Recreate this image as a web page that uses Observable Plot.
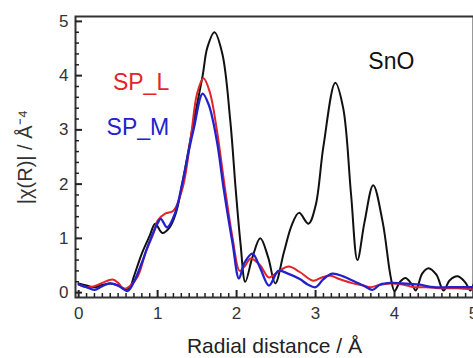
<!DOCTYPE html>
<html><head><meta charset="utf-8">
<script src="https://cdn.jsdelivr.net/npm/d3@7"></script>
<script src="https://cdn.jsdelivr.net/npm/@observablehq/plot@0.6"></script>
<style>
body{margin:0;background:#fff}
svg{font-family:"Liberation Sans",Arial,sans-serif}
</style>
</head><body><div id="chart"></div>
<script>
// SnO reference
const rSnO = [0,0.1,0.2,0.3,0.4,0.5,0.6,0.65,0.7,0.8,0.9,0.97,1.06,1.15,1.23,1.32,1.45,1.57,1.63,1.72,1.82,1.92,1.99,2.05,2.11,2.2,2.3,2.4,2.49,2.6,2.7,2.79,2.91,3.0,3.1,3.25,3.35,3.45,3.53,3.62,3.73,3.85,3.95,4.0,4.07,4.14,4.22,4.27,4.35,4.43,4.53,4.62,4.7,4.8,4.9,4.96,5.0];
const vSnO = [0.17,0.13,0.1,0.14,0.17,0.13,0.06,0.1,0.3,0.72,1.05,1.27,1.1,1.2,1.46,2.07,3.1,4.0,4.52,4.8,4.4,3.17,1.88,0.9,0.2,0.65,1.0,0.65,0.17,0.75,1.25,1.47,1.27,1.6,2.7,3.87,3.4,1.8,0.6,1.3,1.98,1.3,0.3,0.03,0.2,0.27,0.15,0.04,0.35,0.45,0.33,0.04,0.23,0.3,0.18,0.04,0.15];
// SP_L
const rSPL = [0,0.1,0.2,0.3,0.43,0.5,0.57,0.65,0.75,0.85,0.95,1.0,1.1,1.2,1.32,1.42,1.5,1.58,1.66,1.75,1.85,1.95,2.04,2.1,2.18,2.3,2.41,2.52,2.66,2.8,2.97,3.08,3.19,3.3,3.45,3.6,3.7,3.8,3.95,4.1,4.25,4.4,4.6,4.8,5.0];
const vSPL = [0.15,0.1,0.12,0.18,0.24,0.18,0.07,0.12,0.3,0.75,1.1,1.33,1.46,1.51,1.95,2.86,3.67,3.95,3.7,3.0,1.95,1.0,0.4,0.48,0.63,0.5,0.28,0.38,0.48,0.38,0.22,0.28,0.31,0.25,0.18,0.13,0.1,0.14,0.17,0.15,0.1,0.1,0.08,0.08,0.06];
// SP_M
const rSPM = [0,0.1,0.2,0.3,0.4,0.5,0.62,0.7,0.8,0.9,1.0,1.04,1.12,1.22,1.31,1.4,1.46,1.57,1.65,1.75,1.84,1.95,2.03,2.1,2.2,2.3,2.41,2.53,2.65,2.8,2.9,3.0,3.1,3.21,3.35,3.5,3.62,3.72,3.82,3.95,4.1,4.3,4.5,4.7,5.0];
const vSPM = [0.15,0.1,0.05,0.12,0.17,0.13,0.03,0.2,0.55,0.95,1.28,1.36,1.2,1.46,2.0,2.65,3.04,3.67,3.45,2.8,1.88,0.9,0.26,0.55,0.72,0.45,0.13,0.4,0.35,0.25,0.15,0.1,0.25,0.35,0.3,0.2,0.12,0.05,0.15,0.18,0.17,0.15,0.1,0.1,0.1];

const xTicks = [0,1,2,3,4,5];
const yTicks = [0,1,2,3,4,5];
const xMinor = d3.range(0, 50).map(i => i/10).filter(v => !xTicks.includes(v));
const yMinor = d3.range(0, 26).map(i => i/5).filter(v => !yTicks.includes(v));

const seriesNames = ["SnO","SP_L","SP_M"];
const seriesColors = ["#111111","#e3242b","#2222cc"];
const toRows = (rs, vs, name) => rs.map((r, i) => ({r, v: vs[i], name}));
const rows = [toRows(rSnO, vSnO, "SnO"), toRows(rSPL, vSPL, "SP_L"), toRows(rSPM, vSPM, "SP_M")];

const legend = [
  {name: "SP_L", r: 0.79, v: 3.88},
  {name: "SP_M", r: 0.75, v: 3.05},
  {name: "SnO", r: 3.96, v: 4.26}
];

const plotH = 358 - 16 - 61;
const plotW = 473 - 75 - 0;

const chart = Plot.plot({
  width: 473,
  height: 358,
  marginLeft: 75,
  marginRight: 0,
  marginTop: 16,
  marginBottom: 61,
  style: {fontFamily: '"Liberation Sans", Arial, sans-serif', background: "#fff", color: "#222"},
  x: {domain: [-0.04, 5.0]},
  y: {domain: [-0.09, 5.09]},
  color: {domain: seriesNames, range: seriesColors},
  marks: [
    Plot.frame({stroke: "#333", strokeWidth: 2}),
    Plot.ruleX(xTicks, {x: d => d, stroke: "#222", strokeWidth: 2, insetTop: plotH - 7}),
    Plot.ruleX(xMinor, {x: d => d, stroke: "#222", strokeWidth: 1.5, insetTop: plotH - 4}),
    Plot.ruleY(yTicks, {y: d => d, stroke: "#222", strokeWidth: 2, insetRight: plotW - 7}),
    Plot.ruleY(yMinor, {y: d => d, stroke: "#222", strokeWidth: 1.5, insetRight: plotW - 4}),
    Plot.axisX({ticks: xTicks, tickSize: 0, tickPadding: 9, fontSize: 17, tickFormat: "d", label: null, fill: "#333"}),
    Plot.axisY({ticks: yTicks, tickSize: 0, tickPadding: 7, fontSize: 17, tickFormat: "d", label: null, fill: "#333"}),
    Plot.text(["Radial distance / Å"], {frameAnchor: "bottom", textAnchor: "middle", dy: 55, fontSize: 21, fill: "#222"}),
    Plot.text(["|χ(R)| / Å⁻⁴"], {frameAnchor: "left", textAnchor: "middle", dx: -50, rotate: -90, fontSize: 20, fill: "#333"}),
    Plot.line(rows[0], {x: "r", y: "v", stroke: "name", strokeWidth: 2, curve: "catmull-rom"}),
    Plot.line(rows[1], {x: "r", y: "v", stroke: "name", strokeWidth: 2, curve: "catmull-rom"}),
    Plot.line(rows[2], {x: "r", y: "v", stroke: "name", strokeWidth: 2.3, curve: "catmull-rom"}),
    Plot.text(legend, {x: "r", y: "v", text: "name", fill: "name", fontSize: 23})
  ]
});
document.getElementById("chart").appendChild(chart);
</script>
</body></html>
